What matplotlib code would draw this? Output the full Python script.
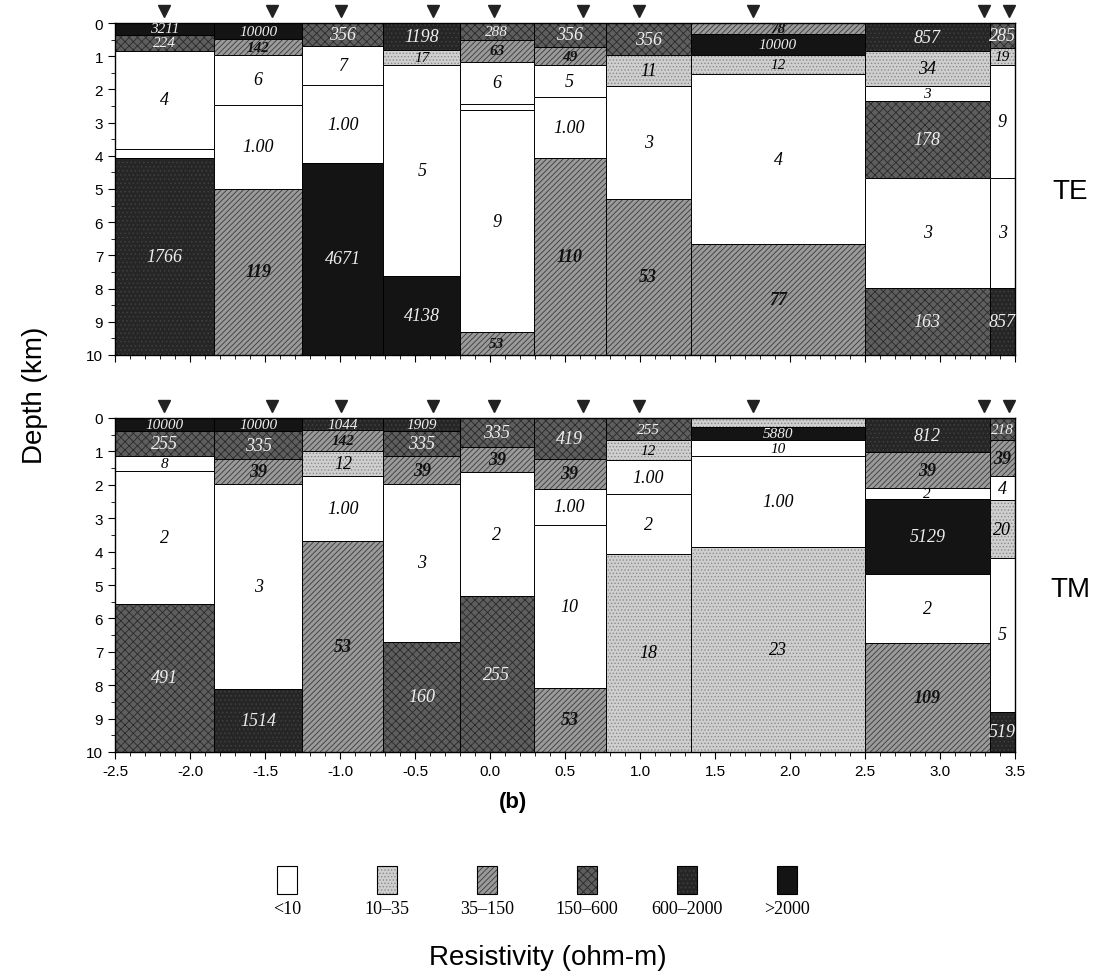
import matplotlib
matplotlib.use("Agg")
import matplotlib.pyplot as plt
from matplotlib.patches import Rectangle
from matplotlib.ticker import MultipleLocator

plt.rcParams['font.family'] = ['Liberation Sans', 'DejaVu Sans']
plt.rcParams['hatch.linewidth'] = 0.6

# column edges along the profile (km) - same for TE and TM
col_edges = [-2.5, -1.84, -1.25, -0.71, -0.2, 0.29, 0.77, 1.34, 2.5, 3.33, 3.5]
stations = [-2.17, -1.45, -0.99, -0.38, 0.03, 0.62, 0.99, 1.75, 3.29, 3.46]

# TE model: layer bottoms (km), labels (ohm-m), resistivity class
te_bottoms = [
    [0.35, 0.84, 3.79, 4.06, 10],
    [0.49, 0.97, 2.46, 4.99, 10],
    [0.70, 1.88, 4.21, 10],
    [0.82, 1.28, 7.63, 10],
    [0.52, 1.16, 2.44, 2.62, 9.32, 10],
    [0.72, 1.28, 2.23, 4.07, 10],
    [0.97, 1.91, 5.30, 10],
    [0.32, 0.97, 1.55, 6.65, 10],
    [0.85, 1.90, 2.35, 4.66, 7.98, 10],
    [0.75, 1.28, 4.66, 7.98, 10],
]
te_labels = [
    ['3211', '224', '4', '', '1766'],
    ['10000', '142', '6', '1.00', '119'],
    ['356', '7', '1.00', '4671'],
    ['1198', '17', '5', '4138'],
    ['288', '63', '6', '', '9', '53'],
    ['356', '49', '5', '1.00', '110'],
    ['356', '11', '3', '53'],
    ['78', '10000', '12', '4', '77'],
    ['857', '34', '3', '178', '3', '163'],
    ['285', '19', '9', '3', '857'],
]
te_classes = [
    [5, 3, 0, 0, 4],
    [5, 2, 0, 0, 2],
    [3, 0, 0, 5],
    [4, 1, 0, 5],
    [3, 2, 0, 0, 0, 2],
    [3, 2, 0, 0, 2],
    [3, 1, 0, 2],
    [2, 5, 1, 0, 2],
    [4, 1, 0, 3, 0, 3],
    [3, 1, 0, 0, 4],
]

# TM model
tm_bottoms = [
    [0.40, 1.15, 1.58, 5.56, 10],
    [0.40, 1.22, 1.98, 8.10, 10],
    [0.37, 1.00, 1.75, 3.69, 10],
    [0.40, 1.15, 1.98, 6.70, 10],
    [0.87, 1.62, 5.34, 10],
    [1.22, 2.12, 3.19, 8.08, 10],
    [0.67, 1.25, 2.29, 4.06, 10],
    [0.28, 0.67, 1.14, 3.86, 10],
    [1.02, 2.10, 2.42, 4.66, 6.74, 10],
    [0.67, 1.75, 2.47, 4.19, 8.80, 10],
]
tm_labels = [
    ['10000', '255', '8', '2', '491'],
    ['10000', '335', '39', '3', '1514'],
    ['1044', '142', '12', '1.00', '53'],
    ['1909', '335', '39', '3', '160'],
    ['335', '39', '2', '255'],
    ['419', '39', '1.00', '10', '53'],
    ['255', '12', '1.00', '2', '18'],
    ['', '5880', '10', '1.00', '23'],
    ['812', '39', '2', '5129', '2', '109'],
    ['218', '39', '4', '20', '5', '519'],
]
tm_classes = [
    [5, 3, 0, 0, 3],
    [5, 3, 2, 0, 4],
    [4, 2, 1, 0, 2],
    [4, 3, 2, 0, 3],
    [3, 2, 0, 3],
    [3, 2, 0, 0, 2],
    [3, 1, 0, 0, 1],
    [1, 5, 0, 0, 1],
    [4, 2, 0, 5, 0, 2],
    [3, 2, 0, 1, 0, 4],
]

class_names = ['<10', '10\u201335', '35\u2013150', '150\u2013600', '600\u20132000', '>2000']

# look of each resistivity class: face, hatch, hatch colour, text colour
face = ['white', '#cfcfcf', '#9a9a9a', '#5e5e5e', '#262626', '#141414']
hatch = [None, '.....', '//////', 'xxxx', '....', None]
hcol = [None, '#8a8a8a', '#3a3a3a', '#2a2a2a', '#404040', None]
tcol = ['black', 'black', '#111111', '#eeeeee', '#eeeeee', '#eeeeee']


def patch(ax, x, y, w, h, k, lw=0.7, **kw):
    ax.add_patch(Rectangle((x, y), w, h, facecolor=face[k], edgecolor='none', **kw))
    if hatch[k]:
        ax.add_patch(Rectangle((x, y), w, h, fill=False, hatch=hatch[k],
                               edgecolor=hcol[k], linewidth=0, **kw))
    ax.add_patch(Rectangle((x, y), w, h, fill=False, edgecolor='black', linewidth=lw, **kw))


def draw_panel(ax, bottoms, labels, classes, show_x):
    for i in range(len(bottoms)):
        x0, x1 = col_edges[i], col_edges[i + 1]
        top = 0.0
        for b, lab, k in zip(bottoms[i], labels[i], classes[i]):
            patch(ax, x0, top, x1 - x0, b - top, k)
            if lab:
                fs = 11 if b - top < 0.7 else 13
                ax.text((x0 + x1) / 2, (top + b) / 2, lab, ha='center', va='center',
                        fontsize=fs, color=tcol[k], family='Liberation Serif',
                        style='italic', fontweight='bold' if k == 2 else 'normal')
            top = b
    ax.plot(stations, [-0.35] * len(stations), 'v', color='#222222', markersize=9,
            clip_on=False)
    ax.set_xlim(-2.5, 3.5)
    ax.set_ylim(10, 0)
    ax.xaxis.set_major_locator(MultipleLocator(0.5))
    ax.xaxis.set_minor_locator(MultipleLocator(0.1))
    ax.yaxis.set_major_locator(MultipleLocator(1))
    ax.yaxis.set_minor_locator(MultipleLocator(0.5))
    ax.tick_params(which='major', direction='out', length=5, labelsize=11)
    ax.tick_params(which='minor', direction='out', length=3)
    ax.tick_params(top=False, right=False)
    if not show_x:
        ax.set_xticklabels([])
    else:
        ax.set_xticklabels(['%.1f' % v for v in ax.get_xticks()])
    for s in ax.spines.values():
        s.set_linewidth(1.0)


fig = plt.figure(figsize=(10.97, 9.78), dpi=100)
ax_te = fig.add_axes([115 / 1097, 1 - 356 / 978, 900 / 1097, 332 / 978])
ax_tm = fig.add_axes([115 / 1097, 1 - 753 / 978, 900 / 1097, 334 / 978])
draw_panel(ax_te, te_bottoms, te_labels, te_classes, False)
draw_panel(ax_tm, tm_bottoms, tm_labels, tm_classes, True)

fig.text(1070 / 1097, 1 - 192 / 978, 'TE', fontsize=20, ha='center', va='center')
fig.text(1070 / 1097, 1 - 590 / 978, 'TM', fontsize=20, ha='center', va='center')
fig.text(35 / 1097, 1 - 395 / 978, 'Depth (km)', fontsize=20, rotation=90,
         ha='center', va='center')
fig.text(513 / 1097, 1 - 803 / 978, '(b)', fontsize=16, fontweight='bold',
         ha='center', va='center')

# legend of resistivity classes
lg = fig.add_axes([0, 0, 1, 1])
lg.set_xlim(0, 1097)
lg.set_ylim(978, 0)
lg.axis('off')
for k, name in enumerate(class_names):
    cx = 287 + 100 * k
    patch(lg, cx - 10, 867, 20, 28, k, lw=0.8)
    lg.text(cx, 909, name, ha='center', va='center', fontsize=13,
            family='Liberation Serif')
lg.text(548, 958, 'Resistivity (ohm-m)', ha='center', va='center', fontsize=20)

fig.savefig('out.png', dpi=100)
